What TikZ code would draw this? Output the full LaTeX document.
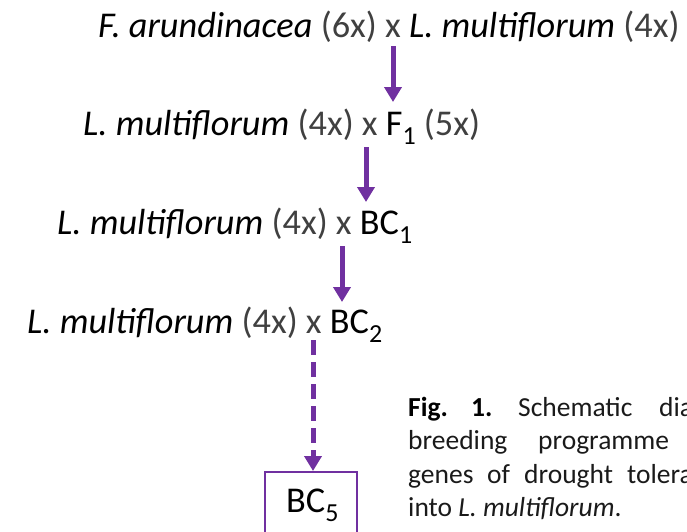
\documentclass[tikz,border=0pt]{standalone}
\usepackage{fontspec}
\setmainfont{Carlito}
\usetikzlibrary{arrows.meta}
\definecolor{pptpurple}{HTML}{7030A0}
\definecolor{txtgray}{HTML}{404040}
\definecolor{captxt}{HTML}{1A1A1A}
\tikzset{
  mainline/.style={anchor=base west, inner sep=0pt, font=\fontsize{36.3}{43}\selectfont, text=black},
  captline/.style={anchor=base west, inner sep=0pt, font=\fontsize{27.5}{33}\selectfont, text=captxt},
  arr/.style={draw=pptpurple, line width=5pt, -{Triangle[width=17pt,length=15pt]}},
  darr/.style={arr, dash pattern=on 15pt off 7pt},
  boxstyle/.style={draw=pptpurple, line width=1.6pt, anchor=north west, minimum width=92pt, minimum height=90pt, inner sep=0pt}
}
\newcommand{\gx}[1]{{\color{txtgray}#1}}
\newcommand{\subsc}[1]{\raisebox{-9pt}{\fontsize{26}{26}\selectfont #1}}
\begin{document}
\begin{tikzpicture}
\useasboundingbox (0pt,0pt) rectangle (687pt,-531pt);
\clip (0pt,0pt) rectangle (687pt,-531pt);
% lines
\node[mainline] (l1) at (98pt,-37pt) {\textit{F. arundinacea} \gx{(6x) x} \textit{L. multiflorum} \gx{(4x)}};
\node[mainline] (l2) at (83pt,-135pt) {\textit{L. multiflorum} \gx{(4x) x} F\subsc{1} \gx{(5x)}};
\node[mainline] (l3) at (57pt,-234pt) {\textit{L. multiflorum} \gx{(4x) x} BC\subsc{1}};
\node[mainline] (l4) at (27pt,-333pt) {\textit{L. multiflorum} \gx{(4x) x} BC\subsc{2}};
% arrows
\coordinate (a1s) at (393pt,-46pt);
\coordinate (a1e) at (393pt,-102pt);
\coordinate (a2s) at (366pt,-147pt);
\coordinate (a2e) at (366pt,-202pt);
\coordinate (a3s) at (342pt,-246pt);
\coordinate (a3e) at (342pt,-302pt);
\draw[arr] (a1s) -- (a1e);
\draw[arr] (a2s) -- (a2e);
\draw[arr] (a3s) -- (a3e);
% box
\node[boxstyle] (box) at (264pt,-471pt) {};
\node[mainline] (bc5) at (286pt,-512pt) {BC\subsc{5}};
\coordinate (a4s) at (313pt,-340pt);
\draw[darr] (a4s) -- (a4s |- box.north);
% caption
\node[captline] (c1a) at (408pt,-416pt) {\textbf{\color{black}Fig.}};
\node[captline] (c1b) at (471pt,-416pt) {\textbf{\color{black}1.}};
\node[captline] (c1c) at (518pt,-416pt) {Schematic};
\node[captline] (c1d) at (659pt,-416pt) {dia};
\node[captline] (c2a) at (408pt,-449pt) {breeding};
\node[captline] (c2b) at (538pt,-449pt) {programme};
\node[captline] (c3a) at (408pt,-483pt) {genes};
\node[captline] (c3b) at (487pt,-483pt) {of};
\node[captline] (c3c) at (524pt,-483pt) {drought};
\node[captline] (c3d) at (627pt,-483pt) {tolera};
\node[captline] (c4) at (408pt,-516pt) {into \textit{L. multiflorum}.};
\end{tikzpicture}
\end{document}
